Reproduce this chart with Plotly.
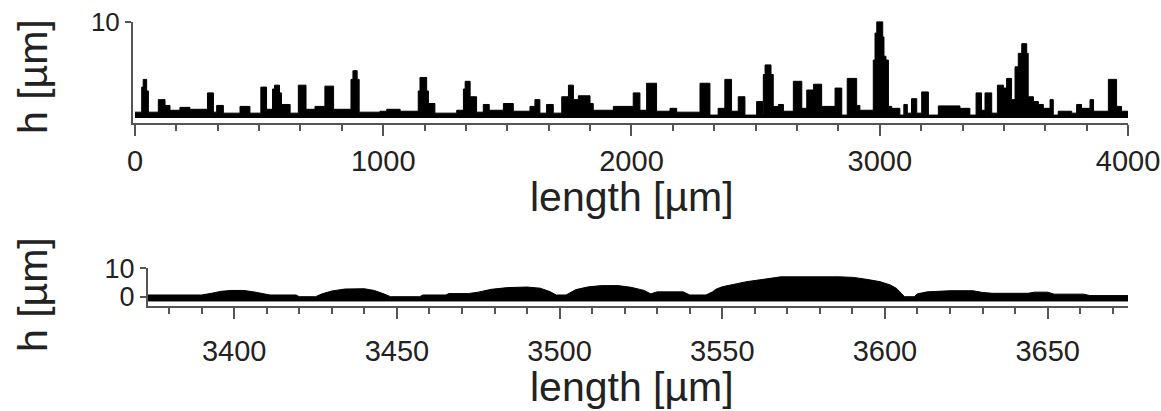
import plotly.graph_objects as go

# ---- overview profile (step trace, 0-4000 µm) ----
top_x = [0, 27, 33, 47, 54, 94, 121, 141, 181, 221, 292, 316, 329, 356, 423, 463,
         507, 530, 554, 562, 582, 590, 625, 658, 689, 725, 765, 800, 870, 878, 895, 903,
         987, 1014, 1068, 1141, 1148, 1175, 1182, 1208, 1296, 1323, 1330, 1350, 1376,
         1403, 1427, 1484, 1524, 1591, 1611, 1631, 1658, 1685, 1719, 1746, 1766, 1786,
         1833, 1846, 1927, 2007, 2034, 2061, 2101, 2155, 2182, 2276, 2316, 2349, 2376,
         2403, 2430, 2457, 2504, 2528, 2531, 2538, 2562, 2571, 2592, 2612, 2652, 2686,
         2706, 2733, 2766, 2820, 2847, 2869, 2907, 2920, 2974, 2981, 2988, 2994, 3012,
         3017, 3025, 3035, 3048, 3081, 3097, 3111, 3128, 3149, 3169, 3196, 3236, 3323,
         3363, 3388, 3410, 3424, 3451, 3474, 3498, 3511, 3531, 3545, 3558, 3572, 3592,
         3598, 3619, 3639, 3659, 3686, 3699, 3719, 3773, 3793, 3813, 3847, 3861, 3921,
         3954, 3974, 4000]
top_h = [0.6, 3.2, 4.0, 2.8, 0.6, 1.9, 1.3, 0.8, 1.1, 0.9, 2.6, 0.6, 1.3, 0.5, 1.2, 0.5,
         3.2, 0.9, 3.0, 3.4, 2.6, 1.4, 0.5, 3.4, 0.9, 1.2, 3.3, 0.9, 4.0, 4.9, 4.0, 0.6,
         0.7, 0.9, 0.7, 2.8, 4.2, 2.8, 1.5, 0.5, 0.8, 3.0, 3.8, 2.2, 0.6,
         1.4, 0.8, 1.5, 0.7, 1.2, 1.9, 0.5, 1.4, 0.5, 2.2, 3.4, 1.9, 2.3,
         1.5, 0.8, 1.2, 2.6, 0.8, 3.6, 0.7, 1.0, 0.6, 3.6, 0.3, 1.0, 4.0,
         0.7, 2.2, 0.3, 1.7, 0.5, 4.5, 5.5, 4.5, 1.2, 1.4, 0.7, 3.8, 1.0,
         2.9, 3.5, 1.2, 3.1, 0.3, 4.1, 1.3, 0.8, 6.0, 8.8, 10.0, 10.0, 8.4,
         6.4, 6.0, 1.2, 1.0, 0.3, 1.4, 0.5, 2.0, 0.5, 2.7, 0.3, 1.25, 1.0,
         0.3, 2.6, 0.8, 2.6, 0.5, 3.4, 3.1, 4.1, 1.9, 5.3, 6.7, 7.7, 6.7,
         2.2, 1.7, 1.4, 1.0, 1.9, 0.3, 0.7, 0.5, 1.4, 1.0, 1.9, 0.7, 4.0,
         1.2, 0.7, 0.7]

# ---- detail profile (3373-3675 µm) ----
bottom_x = [3373.5, 3390, 3393, 3396, 3399, 3403, 3406, 3409, 3411, 3419, 3420, 3425,
            3427, 3430, 3434, 3440, 3443, 3446, 3448, 3457, 3458, 3465, 3466, 3472,
            3475, 3479, 3484, 3490, 3494, 3497, 3499, 3502, 3505, 3509, 3513, 3518,
            3522, 3526, 3528, 3530, 3538, 3540, 3545, 3547, 3548, 3550, 3553.4, 3557.5,
            3562.6, 3566.7, 3568, 3586, 3590.3, 3594.4, 3598.5, 3601.5, 3603.6, 3605,
            3606, 3609, 3610, 3613, 3617, 3620, 3627, 3630, 3633, 3644, 3646, 3650,
            3652, 3661, 3663, 3674.7]
bottom_h = [0.6, 0.6, 1.2, 1.9, 2.2, 2.2, 1.7, 1.0, 0.6, 0.6, 0.0, 0.0,
            1.0, 2.0, 2.7, 2.8, 2.2, 1.0, 0.0, 0.0, 0.6, 0.6, 1.1, 1.1,
            1.6, 2.6, 3.2, 3.4, 3.0, 1.8, 0.6, 0.6, 2.5, 3.5, 3.9, 3.9,
            3.3, 2.2, 1.0, 1.7, 1.7, 0.6, 0.6, 1.7, 2.6, 3.5, 4.4, 5.3,
            6.1, 6.8, 7.0, 7.0, 6.8, 6.1, 5.3, 4.2, 2.9, 1.2,
            0.0, 0.0, 1.0, 1.7, 2.0, 2.1, 2.1, 1.5, 1.2, 1.2, 1.6, 1.6,
            0.9, 0.9, 0.4, 0.4]
bottom_floor = -1.5

top_xticks = [0, 1000, 2000, 3000, 4000]
bottom_xticks = [3400, 3450, 3500, 3550, 3600, 3650]
x_title = "length [µm]"
y_title = "h [µm]"

FONT = "Arial, Liberation Sans, sans-serif"
TXT = "#222222"
AX = "#555555"
W, H = 1161, 411

fig = go.Figure()

fig.add_trace(go.Scatter(
    x=top_x, y=top_h, mode="lines", line=dict(color="black", width=1, shape="hv"),
    fill="tozeroy", fillcolor="black", xaxis="x", yaxis="y", hoverinfo="skip"))

fig.add_trace(go.Scatter(
    x=[bottom_x[0], bottom_x[-1]], y=[bottom_floor, bottom_floor], mode="lines",
    line=dict(color="black", width=1), xaxis="x2", yaxis="y2", hoverinfo="skip"))
fig.add_trace(go.Scatter(
    x=bottom_x, y=bottom_h, mode="lines", line=dict(color="black", width=1),
    fill="tonexty", fillcolor="black", xaxis="x2", yaxis="y2", hoverinfo="skip"))


def px_x(p):
    return p / W


def px_y(p):
    return 1 - p / H


axis_common = dict(showgrid=False, zeroline=False, showline=True, linecolor=AX,
                   linewidth=2, ticks="outside", tickcolor=AX, tickwidth=2,
                   automargin=False,
                   tickfont=dict(family=FONT, size=29, color=TXT))

fig.update_layout(
    template="none",
    width=W, height=H, margin=dict(l=0, r=0, t=0, b=0, pad=0, autoexpand=False),
    plot_bgcolor="white", paper_bgcolor="white", showlegend=False,
    xaxis=dict(axis_common, domain=[px_x(133), px_x(1128)], range=[-8, 4000],
               anchor="y", tickvals=top_xticks, ticklen=11,
               minor=dict(dtick=1000 / 6, tick0=0, ticklen=6, ticks="outside",
                          tickcolor=AX, tickwidth=2)),
    yaxis=dict(axis_common, domain=[px_y(122.7), px_y(21.5)], range=[-0.49, 10],
               anchor="x", tickvals=[10], ticklen=6,
               tickfont=dict(family=FONT, size=26, color=TXT)),
    xaxis2=dict(axis_common, domain=[px_x(148), px_x(1128)], range=[3373.5, 3674.7],
                anchor="y2", tickvals=bottom_xticks, ticklen=11, ticklabelstandoff=8,
                minor=dict(dtick=10, tick0=3400, ticklen=6, ticks="outside",
                           tickcolor=AX, tickwidth=2)),
    yaxis2=dict(axis_common, domain=[px_y(305.5), px_y(268.3)], range=[-3.1, 10],
                anchor="x2", tickvals=[0, 10], ticklen=6,
                tickfont=dict(family=FONT, size=27, color=TXT)),
)

title_font = dict(family=FONT, size=41, color=TXT)
for (x, y, text, angle) in [
    (632, 197, x_title, 0),
    (632, 387, x_title, 0),
    (33, 77, y_title, -90),
    (33, 295, y_title, -90),
]:
    fig.add_annotation(x=px_x(x), y=px_y(y), xref="paper", yref="paper", text=text,
                       showarrow=False, textangle=angle, font=title_font,
                       xanchor="center", yanchor="middle")

fig.write_html("out.html")
